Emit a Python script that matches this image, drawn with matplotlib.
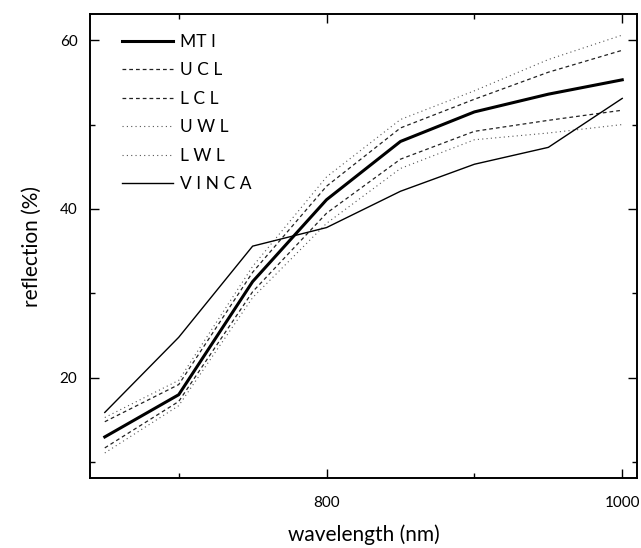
import numpy as np
import matplotlib
matplotlib.use("Agg")
import matplotlib.pyplot as plt
from matplotlib.ticker import MultipleLocator

# data
wavelength = [650, 700, 750, 800, 850, 900, 950, 1000]
mti   = [13.0, 18.0, 31.4, 41.1, 48.0, 51.5, 53.6, 55.3]
ucl   = [14.8, 19.2, 32.5, 42.7, 49.6, 53.0, 56.2, 58.8]
lcl   = [11.7, 17.2, 30.2, 39.5, 45.9, 49.2, 50.5, 51.7]
uwl   = [15.3, 19.7, 33.2, 43.8, 50.6, 54.0, 57.7, 60.6]
lwl   = [11.1, 16.7, 29.5, 38.3, 44.8, 48.2, 49.0, 50.0]
vinca = [15.9, 24.8, 35.6, 37.8, 42.1, 45.3, 47.3, 53.1]

labels = ["MT I", "U C L", "L C L", "U W L", "L W L", "V I N C A"]

plt.rcParams['font.family'] = ['Lato', 'DejaVu Sans']

fig = plt.figure(figsize=(6.41, 5.48), dpi=100)
ax = fig.add_axes([0.1404, 0.1272, 0.8534, 0.8473])

ax.plot(wavelength, mti, color="black", lw=2.2, label=labels[0])
ax.plot(wavelength, ucl, color="#222222", lw=0.9, linestyle=(0, (3.0, 2.4)), label=labels[1])
ax.plot(wavelength, lcl, color="#222222", lw=0.9, linestyle=(0, (3.0, 2.4)), label=labels[2])
ax.plot(wavelength, uwl, color="#555555", lw=0.8, linestyle=(0, (1.0, 2.9)), label=labels[3])
ax.plot(wavelength, lwl, color="#555555", lw=0.8, linestyle=(0, (1.0, 2.9)), label=labels[4])
ax.plot(wavelength, vinca, color="black", lw=1.0, label=labels[5])

ax.set_xlim(640, 1010)
ax.set_ylim(8.1, 63.1)

ax.xaxis.set_major_locator(MultipleLocator(200))
ax.xaxis.set_minor_locator(MultipleLocator(100))
ax.yaxis.set_major_locator(MultipleLocator(20))
ax.yaxis.set_minor_locator(MultipleLocator(10))

ax.tick_params(which="both", direction="in", top=True, right=True, width=1.0)
ax.tick_params(which="major", length=6.5)
ax.tick_params(which="minor", length=3.5)
ax.tick_params(axis="y", which="major", labelsize=11, pad=9)
ax.tick_params(axis="x", which="major", labelsize=11, pad=13)

for s in ax.spines.values():
    s.set_linewidth(1.4)

ax.set_xlabel("wavelength (nm)", fontsize=15, labelpad=10)
ax.set_ylabel("reflection (%)", fontsize=15, labelpad=13)

leg = ax.legend(loc="upper left", frameon=False, fontsize=12.5,
                handlelength=2.9, handletextpad=0.4, labelspacing=0.72,
                bbox_to_anchor=(0.04, 0.98), borderaxespad=0.2)

fig.savefig("out.png", dpi=100)
